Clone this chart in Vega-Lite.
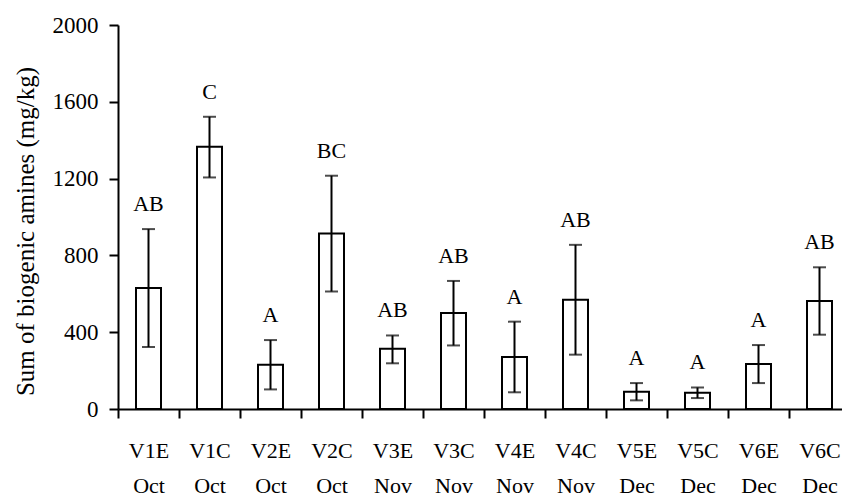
{
  "$schema": "https://vega.github.io/schema/vega-lite/v6.json",
  "autosize": {"type": "none"},
  "padding": {"left": 118, "top": 25, "right": 0, "bottom": 89},
  "width": 732,
  "height": 384,
  "background": "white",
  "config": {"view": {"stroke": null}, "font": "Liberation Serif", "axisX": {"ticks": true, "tickColor": "black", "tickSize": 9, "tickWidth": 2}},
  "data": {"values": [
    {"group": "V1E Oct", "mean": 630, "low": 323, "high": 937, "letter": "AB"},
    {"group": "V1C Oct", "mean": 1366, "low": 1206, "high": 1522, "letter": "C"},
    {"group": "V2E Oct", "mean": 231, "low": 102, "high": 359, "letter": "A"},
    {"group": "V2C Oct", "mean": 914, "low": 612, "high": 1215, "letter": "BC"},
    {"group": "V3E Nov", "mean": 314, "low": 238, "high": 383, "letter": "AB"},
    {"group": "V3C Nov", "mean": 500, "low": 331, "high": 667, "letter": "AB"},
    {"group": "V4E Nov", "mean": 271, "low": 87, "high": 455, "letter": "A"},
    {"group": "V4C Nov", "mean": 569, "low": 283, "high": 855, "letter": "AB"},
    {"group": "V5E Dec", "mean": 90, "low": 45, "high": 135, "letter": "A"},
    {"group": "V5C Dec", "mean": 85, "low": 57, "high": 112, "letter": "A"},
    {"group": "V6E Dec", "mean": 234, "low": 135, "high": 333, "letter": "A"},
    {"group": "V6C Dec", "mean": 562, "low": 387, "high": 738, "letter": "AB"}
  ]},
  "encoding": {
    "x": {
      "field": "group", "type": "nominal", "sort": null,
      "scale": {"paddingInner": 0, "paddingOuter": 0},
      "axis": {
        "title": null, "labelAngle": 0, "tickBand": "extent",
        "domainColor": "black", "domainWidth": 2,
        "labelFontSize": 22, "labelColor": "black", "labelPadding": 22,
        "labelExpr": "split(datum.label, ' ')", "labelLineHeight": 35
      }
    }
  },
  "layer": [
    {
      "mark": {"type": "bar", "fill": "white", "stroke": "black", "strokeWidth": 2, "width": 25},
      "encoding": {
        "y": {
          "field": "mean", "type": "quantitative",
          "scale": {"domain": [0, 2000], "nice": false},
          "axis": {
            "title": "Sum of biogenic amines (mg/kg)", "values": [0, 400, 800, 1200, 1600, 2000], "format": "d",
            "grid": false, "domainColor": "black", "domainWidth": 2,
            "tickColor": "black", "tickWidth": 2, "tickSize": 9,
            "labelFontSize": 23, "labelColor": "black", "labelPadding": 11,
            "titleFontSize": 25, "titleFontWeight": "normal", "titleColor": "black", "titlePadding": 14, "titleY": 206
          }
        }
      }
    },
    {
      "mark": {"type": "rule", "color": "black", "strokeWidth": 2},
      "encoding": {"y": {"field": "low", "type": "quantitative"}, "y2": {"field": "high"}}
    },
    {
      "mark": {"type": "tick", "color": "black", "thickness": 2, "size": 13},
      "encoding": {"y": {"field": "low", "type": "quantitative"}}
    },
    {
      "mark": {"type": "tick", "color": "black", "thickness": 2, "size": 13},
      "encoding": {"y": {"field": "high", "type": "quantitative"}}
    },
    {
      "mark": {"type": "text", "fontSize": 22, "dy": -25, "baseline": "middle", "color": "black"},
      "encoding": {"y": {"field": "high", "type": "quantitative"}, "text": {"field": "letter"}}
    }
  ]
}
